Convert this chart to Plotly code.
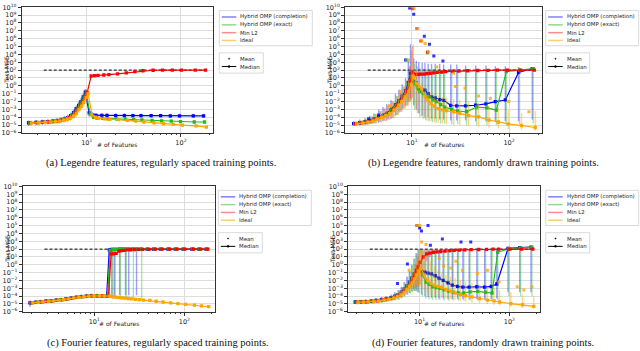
import plotly.graph_objects as go

W, H = 640, 351

SERIES = ["Hybrid OMP (completion)", "Hybrid OMP (exact)", "Min L2", "Ideal"]
COLORS = ["#0000ff", "#22bb22", "#ff0000", "#ffa500"]
BAR_COLORS = ["rgba(0,0,255,0.38)", "rgba(34,187,34,0.38)", "rgba(255,0,0,0.35)", "rgba(255,165,0,0.45)"]
LEGEND_COLORS = ["rgba(0,0,255,0.5)", "rgba(34,187,34,0.5)", "rgba(255,0,0,0.45)", "rgba(255,165,0,0.55)"]

CAPTIONS = [
    "(a) Legendre features, regularly spaced training points.",
    "(b) Legendre features, randomly drawn training points.",
    "(c) Fourier features, regularly spaced training points.",
    "(d) Fourier features, randomly drawn training points.",
]

Y_TICK_EXP = [-6, -5, -4, -3, -2, -1, 0, 1, 2, 3, 4, 5, 6, 7, 8, 9, 10]
X_TICKS = [10, 100]
X_TICK_TEXT = ["10<sup>1</sup>", "10<sup>2</sup>"]
NULL_MSE = 100

# (a) Legendre features, regularly spaced points
A_X = [2.5, 3.0, 3.5, 4.0, 4.5, 5.0, 5.5, 6.0, 6.5, 7.0, 7.5, 8.0, 8.5, 9.0, 9.5, 10.0,
       11.0, 12.0, 13.0, 15.0, 17.0, 21.0, 26.0, 32.0, 39.0, 50.0, 63.0, 80.0, 100.0, 140.0, 180.0]
A_DASH_X = [3.5, 180.0]
a_blue = [-4.7, -4.65, -4.6, -4.55, -4.5, -4.45, -4.35, -4.2, -4.05, -3.8, -3.4, -2.9, -2.5, -2.0, -1.4, -0.8,
          -3.45, -3.7, -3.75, -3.75, -3.75, -3.78, -3.78, -3.8, -3.8, -3.8, -3.8, -3.82, -3.82, -3.82, -3.82]
a_blue_lo = [-5.1, -5.0, -4.95, -4.9, -4.85, -4.8, -4.7, -4.6, -4.5, -4.3, -3.9, -3.5, -3.1, -2.6, -2.0, -1.5,
             -3.9, -4.0, -4.0, -4.0, -4.0, -4.0, -4.0, -4.05, -4.05, -4.05, -4.05, -4.05, -4.05, -4.05, -4.05]
a_blue_hi = [-4.4, -4.35, -4.3, -4.25, -4.2, -4.1, -4.0, -3.85, -3.65, -3.4, -3.0, -2.5, -2.0, -1.5, -1.0, -0.4,
             -3.0, -3.35, -3.45, -3.5, -3.5, -3.5, -3.5, -3.55, -3.55, -3.55, -3.55, -3.55, -3.55, -3.55, -3.55]
a_green = [-4.72, -4.67, -4.62, -4.57, -4.5, -4.45, -4.35, -4.2, -4.05, -3.8, -3.45, -2.95, -2.5, -2.05, -1.45, -0.9,
           -3.6, -4.0, -4.1, -4.15, -4.2, -4.2, -4.25, -4.3, -4.35, -4.4, -4.45, -4.5, -4.55, -4.6, -4.6]
a_green_lo = [-5.0, -4.95, -4.9, -4.85, -4.8, -4.75, -4.65, -4.55, -4.4, -4.2, -3.85, -3.35, -2.9, -2.5, -1.9, -1.4,
              -3.9, -4.25, -4.3, -4.35, -4.4, -4.4, -4.45, -4.5, -4.55, -4.6, -4.65, -4.7, -4.75, -4.8, -4.8]
a_green_hi = [-4.45, -4.4, -4.35, -4.3, -4.25, -4.15, -4.05, -3.9, -3.7, -3.45, -3.05, -2.55, -2.1, -1.6, -1.0, -0.5,
              -3.3, -3.75, -3.9, -3.95, -4.0, -4.0, -4.05, -4.1, -4.15, -4.2, -4.25, -4.3, -4.35, -4.4, -4.4]
a_red = [-4.72, -4.67, -4.62, -4.57, -4.52, -4.46, -4.36, -4.22, -4.06, -3.82, -3.45, -2.95, -2.52, -2.05, -1.45, -0.85,
         1.25, 1.3, 1.33, 1.38, 1.43, 1.52, 1.65, 1.8, 1.92, 1.98, 2.0, 2.0, 2.0, 2.0, 2.0]
a_red_lo = [-4.95, -4.9, -4.85, -4.8, -4.75, -4.7, -4.6, -4.5, -4.35, -4.15, -3.8, -3.3, -2.9, -2.45, -1.9, -1.35,
            1.15, 1.22, 1.25, 1.3, 1.35, 1.44, 1.57, 1.72, 1.85, 1.92, 1.95, 1.95, 1.95, 1.95, 1.95]
a_red_hi = [-4.5, -4.45, -4.4, -4.35, -4.3, -4.2, -4.1, -3.95, -3.75, -3.5, -3.1, -2.6, -2.15, -1.65, -1.05, -0.45,
            1.35, 1.38, 1.41, 1.46, 1.51, 1.6, 1.73, 1.88, 1.99, 2.04, 2.05, 2.05, 2.05, 2.05, 2.05]
a_orange = [-4.75, -4.7, -4.65, -4.6, -4.55, -4.48, -4.38, -4.25, -4.1, -3.85, -3.5, -3.0, -2.6, -2.1, -1.5, -1.0,
            -3.7, -4.0, -4.1, -4.2, -4.25, -4.3, -4.4, -4.5, -4.6, -4.7, -4.8, -4.9, -5.0, -5.1, -5.25]
a_orange_lo = [-5.1, -5.05, -5.0, -4.95, -4.9, -4.85, -4.75, -4.65, -4.5, -4.3, -3.95, -3.45, -3.05, -2.6, -2.0, -1.6,
               -3.9, -4.15, -4.25, -4.3, -4.35, -4.4, -4.5, -4.6, -4.7, -4.8, -4.9, -5.0, -5.1, -5.2, -5.35]
a_orange_hi = [-4.4, -4.35, -4.3, -4.25, -4.2, -4.1, -4.0, -3.85, -3.7, -3.4, -3.05, -2.55, -2.1, -1.6, -1.0, -0.45,
               -3.5, -3.85, -3.95, -4.1, -4.15, -4.2, -4.3, -4.4, -4.5, -4.6, -4.7, -4.8, -4.9, -5.0, -5.15]

# (b) Legendre features, random points
B_X = [2.6, 3.0, 3.4, 3.8, 4.2, 4.7, 5.2, 5.7, 6.3, 7.0, 7.6, 8.2, 8.9, 9.5, 10.0, 10.8, 11.5,
       12.2, 13.2, 14.1, 15.2, 16.5, 18.0, 20.0, 22.0, 26.0, 30.0, 37.0, 47.0, 60.0, 75.0, 95.0, 130.0, 180.0]
B_DASH_X = [3.5, 180.0]
b_blue = [-4.8, -4.7, -4.55, -4.4, -4.2, -3.95, -3.75, -3.5, -3.0, -2.4, -1.9, -1.3, -0.6, 0.4, 1.6, 0.6, 0.4,
          -0.4, -0.5, -0.55, -1.0, -1.4, -1.55, -1.75, -1.85, -2.5, -2.55, -2.55, -2.47, -2.3, -2.0, -1.8, 1.7, 2.2]
b_blue_lo = [-5.0, -5.0, -5.0, -4.9, -4.8, -4.7, -4.5, -4.4, -4.2, -3.8, -3.4, -3.0, -2.6, -2.0, -1.6, -2.5, -3.0,
             -3.5, -3.8, -4.0, -4.0, -4.2, -4.2, -4.3, -4.3, -4.4, -4.4, -4.4, -4.5, -4.5, -4.5, -4.5, -4.5, -4.3]
b_blue_hi = [-4.5, -4.3, -4.1, -3.8, -3.5, -3.0, -2.7, -2.3, -1.8, -1.0, -0.5, 0.2, 1.0, 3.2, 5.3, 3.5, 3.2,
             3.0, 2.9, 2.9, 2.8, 2.8, 2.8, 2.8, 2.7, 2.7, 2.7, 2.6, 2.6, 2.6, 2.5, 2.5, 2.4, 2.4]
b_green = [-4.82, -4.72, -4.58, -4.42, -4.22, -3.97, -3.77, -3.52, -3.05, -2.45, -1.95, -1.35, -0.7, 0.3, 1.2, 0.3, -0.2,
           -0.75, -1.0, -1.4, -1.4, -1.8, -2.0, -2.4, -2.7, -3.0, -3.2, -3.3, -2.7, -2.8, -3.1, 1.8, 2.0, 2.2]
b_green_lo = [-5.05, -5.0, -4.95, -4.85, -4.75, -4.6, -4.45, -4.3, -4.1, -3.7, -3.3, -2.9, -2.5, -2.1, -1.8, -3.0, -3.5,
              -4.0, -4.2, -4.4, -4.5, -4.6, -4.7, -4.8, -4.8, -4.9, -4.9, -5.0, -5.0, -5.0, -5.0, -5.0, -4.9, -4.8]
b_green_hi = [-4.55, -4.4, -4.2, -3.9, -3.6, -3.2, -2.9, -2.5, -2.0, -1.3, -0.8, -0.1, 0.7, 2.5, 4.5, 2.8, 2.5,
              2.3, 2.2, 2.2, 2.1, 2.1, 2.1, 2.1, 2.1, 2.1, 2.1, 2.1, 2.1, 2.1, 2.1, 2.2, 2.3, 2.4]
b_red = [-4.82, -4.72, -4.58, -4.42, -4.22, -3.97, -3.77, -3.52, -3.05, -2.45, -1.95, -1.35, -0.65, 0.5, 1.8, 1.45, 1.45,
         1.5, 1.5, 1.55, 1.6, 1.65, 1.7, 1.75, 1.8, 1.85, 1.88, 1.92, 1.95, 1.97, 2.0, 2.0, 2.0, 2.0]
b_red_lo = [-5.05, -5.0, -4.95, -4.85, -4.75, -4.6, -4.45, -4.3, -4.1, -3.7, -3.3, -2.9, -2.5, -2.0, -1.5, 1.1, 1.2,
            1.25, 1.3, 1.35, 1.4, 1.45, 1.5, 1.55, 1.6, 1.65, 1.7, 1.75, 1.8, 1.85, 1.88, 1.9, 1.9, 1.9]
b_red_hi = [-4.55, -4.4, -4.2, -3.9, -3.6, -3.2, -2.9, -2.5, -2.0, -1.3, -0.8, -0.1, 0.7, 2.5, 5.0, 1.9, 1.85,
            1.85, 1.85, 1.9, 1.9, 1.95, 1.95, 2.0, 2.0, 2.05, 2.05, 2.05, 2.05, 2.05, 2.1, 2.1, 2.1, 2.1]
b_orange = [-4.85, -4.75, -4.6, -4.45, -4.25, -4.0, -3.8, -3.55, -3.1, -2.5, -2.0, -1.4, -0.7, 0.2, 1.2, 0.3, -0.1,
            -0.4, -1.4, -1.8, -2.25, -2.6, -2.9, -3.05, -3.15, -3.3, -3.5, -3.8, -3.95, -4.35, -4.6, -4.85, -5.05, -5.3]
b_orange_lo = [-5.1, -5.05, -5.0, -4.9, -4.8, -4.65, -4.5, -4.35, -4.15, -3.75, -3.35, -2.95, -2.55, -2.1, -1.9, -3.0, -3.5,
               -3.9, -4.2, -4.4, -4.5, -4.6, -4.7, -4.8, -4.9, -5.0, -5.0, -5.1, -5.2, -5.3, -5.4, -5.5, -5.6, -5.7]
b_orange_hi = [-4.5, -4.35, -4.15, -3.85, -3.55, -3.15, -2.85, -2.45, -1.95, -1.25, -0.75, -0.05, 0.75, 2.6, 5.3, 2.0, 1.0,
               0.5, -0.3, -0.6, -0.8, -1.0, -1.2, -1.4, -1.5, -1.7, -1.8, -2.0, -2.2, -2.5, -2.8, -3.0, -3.5, -3.2]
B_BLUE_MEAN_X = [3.7, 4.7, 8.9, 9.8, 10.8, 13.9, 15.7, 17.4, 21.6]
b_blue_mean = [-4.2, -3.7, 3.3, 9.9, 9.1, 6.3, 5.3, 3.8, 3.15]
B_GREEN_MEAN_X = [8.9, 14.6]
b_green_mean = [3.3, 4.2]
B_RED_MEAN_X = [10.0, 11.1, 12.2, 14.3]
b_red_mean = [9.8, 7.3, 5.7, 4.3]
B_ORANGE_MEAN_X = [5.7, 7.3, 8.9, 10.2, 11.1, 12.2, 13.2, 14.3, 17.4, 26.0, 27.0, 34.0, 47.0, 62.0, 96.0, 155.0]
b_orange_mean = [-2.5, -0.7, 3.3, 9.85, 7.3, 5.7, 5.4, 4.3, 2.4, 1.6, -0.1, -0.3, -1.3, -1.6, -2.0, -3.3]

# (c) Fourier features, regularly spaced points
C_X = [2.0, 2.3, 2.6, 3.0, 3.4, 3.9, 4.4, 5.0, 5.7, 6.5, 7.4, 8.4, 9.6, 11.0, 12.5, 14.2, 15.2, 16.2,
       17.3, 18.5, 19.8, 21.2, 23.0, 25.0, 27.5, 30.5, 34.0, 40.0, 47.0, 56.0, 68.0, 82.0, 100.0, 125.0, 150.0, 180.0]
C_DASH_X = [2.8, 180.0]
c_blue = [-4.85, -4.8, -4.75, -4.65, -4.6, -4.5, -4.45, -4.35, -4.25, -4.15, -4.05, -4.0, -3.95, -3.95, -3.97, -4.0,
          1.9, 1.95, 1.97, 1.98, 2.0, 2.0, 2.0, 2.0, 2.0, 2.0, 2.0, 2.0, 2.0, 2.0, 2.0, 2.0, 2.0, 2.0, 2.0, 2.0]
c_blue_lo = [-5.4, -5.0, -4.95, -4.85, -4.8, -4.7, -4.65, -4.55, -4.45, -4.35, -4.25, -4.2, -4.15, -4.15, -4.17, -4.25,
             -3.9, -3.9, -3.9, 1.8, -3.9, 1.8, -3.9, -3.9, 1.8, -3.9, 1.8, 1.8, 1.8, 1.8, 1.8, 1.8, 1.8, 1.8, 1.8, 1.8]
c_blue_hi = [-4.55, -4.5, -4.45, -4.4, -4.35, -4.25, -4.2, -4.1, -4.0, -3.9, -3.8, -3.75, -3.7, -3.7, -3.72, -3.75,
             2.05, 2.05, 2.05, 2.05, 2.05, 2.05, 2.05, 2.05, 2.05, 2.05, 2.05, 2.05, 2.05, 2.05, 2.05, 2.05, 2.05, 2.05, 2.05, 2.05]
c_green = [-4.85, -4.8, -4.75, -4.65, -4.6, -4.5, -4.45, -4.35, -4.25, -4.15, -4.05, -4.0, -3.95, -3.95, -3.97, -4.0,
           1.85, 1.95, 1.97, 1.98, 2.0, 2.0, 2.0, 2.0, 2.0, 2.0, 2.0, 2.0, 2.0, 2.0, 2.0, 2.0, 2.0, 2.0, 2.0, 2.0]
c_green_lo = [-5.2, -5.0, -4.95, -4.85, -4.8, -4.7, -4.65, -4.55, -4.45, -4.35, -4.25, -4.2, -4.15, -4.15, -4.17, -4.2,
              1.75, -4.4, -4.4, 1.8, -4.4, 1.8, -4.4, 1.8, -4.4, 1.8, -4.4, 1.8, 1.8, 1.8, 1.8, 1.8, 1.8, 1.8, 1.8, 1.8]
c_green_hi = [-4.55, -4.5, -4.45, -4.4, -4.35, -4.25, -4.2, -4.1, -4.0, -3.9, -3.8, -3.75, -3.7, -3.7, -3.72, -3.75,
              2.05, 2.05, 2.05, 2.05, 2.05, 2.05, 2.05, 2.05, 2.05, 2.05, 2.05, 2.05, 2.05, 2.05, 2.05, 2.05, 2.05, 2.05, 2.05, 2.05]
c_red = [-4.85, -4.8, -4.75, -4.65, -4.6, -4.5, -4.45, -4.35, -4.25, -4.15, -4.05, -4.0, -3.95, -3.95, -3.97, -4.0,
         1.4, 1.4, 1.45, 1.75, 1.8, 1.85, 1.9, 1.92, 1.95, 1.96, 1.97, 1.98, 1.99, 2.0, 2.0, 2.0, 2.0, 2.0, 2.0, 2.0]
c_red_lo = [-5.05, -5.0, -4.95, -4.85, -4.8, -4.7, -4.65, -4.55, -4.45, -4.35, -4.25, -4.2, -4.15, -4.15, -4.17, -4.2,
            1.25, 1.3, 1.35, 1.65, 1.7, 1.75, 1.8, 1.82, 1.85, 1.86, 1.87, 1.88, 1.89, 1.9, 1.9, 1.9, 1.9, 1.9, 1.9, 1.9]
c_red_hi = [-4.65, -4.6, -4.55, -4.45, -4.4, -4.3, -4.25, -4.15, -4.05, -3.95, -3.85, -3.8, -3.75, -3.75, -3.77, -3.8,
            1.95, 1.6, 1.6, 1.85, 1.9, 1.95, 2.0, 2.02, 2.05, 2.06, 2.07, 2.08, 2.09, 2.1, 2.1, 2.1, 2.1, 2.1, 2.1, 2.1]
c_orange = [-4.85, -4.8, -4.75, -4.65, -4.6, -4.5, -4.45, -4.35, -4.25, -4.15, -4.05, -4.0, -3.95, -3.95, -3.97, -4.0,
            -4.05, -4.1, -4.15, -4.2, -4.22, -4.25, -4.3, -4.35, -4.4, -4.45, -4.5, -4.55, -4.65, -4.75, -4.85, -4.95, -5.05, -5.15, -5.25, -5.35]
c_orange_lo = [-5.05, -5.0, -4.95, -4.85, -4.8, -4.7, -4.65, -4.55, -4.45, -4.35, -4.25, -4.2, -4.15, -4.15, -4.17, -4.2,
               -4.2, -4.25, -4.3, -4.35, -4.37, -4.4, -4.45, -4.5, -4.55, -4.6, -4.65, -4.7, -4.8, -4.9, -5.0, -5.1, -5.2, -5.3, -5.4, -5.5]
c_orange_hi = [-4.65, -4.6, -4.55, -4.45, -4.4, -4.3, -4.25, -4.15, -4.05, -3.95, -3.85, -3.8, -3.75, -3.75, -3.77, -3.8,
               -3.9, -3.95, -4.0, -4.05, -4.07, -4.1, -4.15, -4.2, -4.25, -4.3, -4.35, -4.4, -4.5, -4.6, -4.7, -4.8, -4.9, -5.0, -5.1, -5.2]

# (d) Fourier features, random points
D_X = [2.0, 2.3, 2.6, 3.0, 3.4, 3.9, 4.4, 5.0, 5.5, 6.0, 6.5, 7.0, 7.5, 8.0, 8.5, 9.0, 9.5, 10.0, 10.9,
       11.9, 12.9, 14.1, 15.5, 17.0, 19.0, 21.5, 24.0, 27.5, 31.5, 37.0, 45.0, 55.0, 65.0, 75.0, 100.0, 135.0, 180.0]
D_DASH_X = [2.8, 180.0]
d_blue = [-4.75, -4.72, -4.7, -4.65, -4.55, -4.45, -4.35, -4.2, -4.0, -3.8, -3.5, -3.1, -2.7, -2.2, -1.7, -1.2, -0.7, -0.3, -0.8,
          -0.95, -1.05, -1.15, -1.4, -1.7, -2.0, -2.3, -2.6, -2.75, -2.85, -2.85, -2.8, -2.85, -2.75, -2.45, 2.1, 2.2, 2.25]
d_blue_lo = [-5.0, -5.0, -4.95, -4.9, -4.85, -4.8, -4.7, -4.6, -4.5, -4.4, -4.2, -4.0, -3.8, -3.6, -3.4, -3.3, -3.3, -3.5, -3.8,
             -4.0, -4.1, -4.2, -4.2, -4.3, -4.3, -4.4, -4.4, -4.4, -4.4, -4.4, -4.4, -4.4, -4.4, -4.3, -3.5, -3.5, -3.5]
d_blue_hi = [-4.5, -4.45, -4.4, -4.35, -4.25, -4.1, -4.0, -3.8, -3.5, -3.2, -2.8, -2.2, -1.5, -0.8, 0.0, 0.8, 1.5, 2.0, 1.9,
             1.9, 1.9, 1.9, 1.9, 1.9, 1.9, 1.9, 1.9, 1.9, 1.9, 1.9, 1.9, 1.9, 1.9, 1.9, 2.3, 2.35, 2.4]
d_green = [-4.77, -4.74, -4.72, -4.67, -4.57, -4.47, -4.37, -4.22, -4.02, -3.82, -3.52, -3.12, -2.72, -2.25, -1.75, -1.25, -0.8, -0.5, -1.3,
           -2.2, -2.5, -2.8, -2.9, -3.0, -3.2, -3.4, -3.5, -3.6, -3.6, -3.45, -3.4, -3.5, -3.6, 1.6, 2.05, 2.15, 2.25]
d_green_lo = [-5.05, -5.0, -5.0, -4.95, -4.9, -4.85, -4.75, -4.65, -4.55, -4.45, -4.25, -4.05, -3.85, -3.65, -3.45, -3.35, -3.4, -3.6, -4.0,
              -4.3, -4.4, -4.5, -4.5, -4.5, -4.6, -4.6, -4.6, -4.6, -4.6, -4.6, -4.6, -4.6, -4.6, -4.5, -4.0, -4.0, -4.0]
d_green_hi = [-4.52, -4.47, -4.42, -4.37, -4.27, -4.12, -4.02, -3.82, -3.52, -3.22, -2.82, -2.22, -1.52, -0.82, -0.02, 0.78, 1.45, 1.95, 1.95,
              1.95, 1.95, 1.95, 1.95, 1.95, 1.95, 1.95, 1.95, 1.95, 1.95, 1.95, 1.95, 1.95, 1.95, 2.0, 2.3, 2.35, 2.4]
d_red = [-4.77, -4.74, -4.72, -4.67, -4.57, -4.47, -4.37, -4.22, -4.02, -3.82, -3.52, -3.12, -2.72, -2.2, -1.6, -1.0, -0.3, 0.3, 1.0,
         1.4, 1.5, 1.6, 1.65, 1.7, 1.75, 1.8, 1.85, 1.88, 1.9, 1.93, 1.95, 1.97, 2.0, 2.0, 2.0, 2.0, 2.0]
d_red_lo = [-5.0, -4.97, -4.95, -4.9, -4.8, -4.7, -4.6, -4.45, -4.25, -4.05, -3.75, -3.35, -3.0, -2.9, -3.0, -3.0, -2.8, -2.5, -1.5,
            0.5, 1.0, 1.3, 1.4, 1.45, 1.5, 1.55, 1.6, 1.65, 1.7, 1.75, 1.8, 1.82, 1.85, 1.85, 1.85, 1.85, 1.85]
d_red_hi = [-4.55, -4.5, -4.48, -4.43, -4.33, -4.23, -4.13, -3.98, -3.78, -3.58, -3.28, -2.88, -2.48, -1.9, -1.0, 0.0, 1.0, 2.0, 2.0,
            2.0, 2.0, 2.0, 2.0, 2.0, 2.0, 2.05, 2.05, 2.05, 2.05, 2.05, 2.1, 2.1, 2.1, 2.1, 2.1, 2.1, 2.1]
d_orange = [-4.8, -4.77, -4.75, -4.7, -4.6, -4.5, -4.4, -4.25, -4.05, -3.85, -3.55, -3.15, -2.75, -2.3, -1.8, -1.3, -0.8, -0.45, -1.3,
            -2.0, -2.35, -2.6, -2.75, -2.85, -3.15, -3.4, -3.6, -3.8, -3.95, -4.1, -4.3, -4.5, -4.6, -4.75, -4.95, -5.1, -5.3]
d_orange_lo = [-5.1, -5.05, -5.05, -5.0, -4.9, -4.8, -4.7, -4.6, -4.45, -4.3, -4.05, -3.7, -3.4, -3.1, -2.8, -2.6, -2.6, -2.8, -3.2,
               -3.6, -3.9, -4.0, -4.1, -4.2, -4.3, -4.4, -4.5, -4.6, -4.7, -4.8, -4.9, -5.0, -5.1, -5.2, -5.35, -5.5, -5.6]
d_orange_hi = [-4.5, -4.47, -4.45, -4.4, -4.3, -4.2, -4.1, -3.9, -3.6, -3.3, -2.9, -2.4, -1.8, -1.0, -0.2, 0.6, 1.4, 1.9, 1.8,
               1.0, 0.5, -0.2, -0.6, -1.0, -1.3, -1.5, -1.7, -1.9, -2.1, -2.3, -2.5, -2.8, -3.0, -3.2, -3.5, -3.8, -4.0]
D_BLUE_MEAN_X = [5.9, 7.6, 9.7, 10.4, 10.9, 12.9, 13.7, 18.6, 30.0, 38.5]
d_blue_mean = [-2.4, 0.1, 5.0, 4.7, 4.3, 5.0, 2.5, 3.3, 2.9, 2.9]
D_ORANGE_MEAN_X = [7.4, 9.0, 9.7, 10.0, 10.2, 11.4, 16.0, 18.0, 21.6, 24.5, 29.0, 42.5, 55.0, 74.0, 118.0, 140.0, 172.0]
d_orange_mean = [-0.7, 5.0, 5.0, 1.6, 2.9, 2.6, 0.8, -0.2, -0.4, 0.45, -0.7, -1.1, -0.7, -2.2, -2.8, -3.2, -2.8]

PANELS = [
    (A_X, A_DASH_X, [(a_blue, a_blue_lo, a_blue_hi), (a_green, a_green_lo, a_green_hi),
                     (a_red, a_red_lo, a_red_hi), (a_orange, a_orange_lo, a_orange_hi)], []),
    (B_X, B_DASH_X, [(b_blue, b_blue_lo, b_blue_hi), (b_green, b_green_lo, b_green_hi),
                     (b_red, b_red_lo, b_red_hi), (b_orange, b_orange_lo, b_orange_hi)],
     [(0, B_BLUE_MEAN_X, b_blue_mean), (1, B_GREEN_MEAN_X, b_green_mean),
      (2, B_RED_MEAN_X, b_red_mean), (3, B_ORANGE_MEAN_X, b_orange_mean)]),
    (C_X, C_DASH_X, [(c_blue, c_blue_lo, c_blue_hi), (c_green, c_green_lo, c_green_hi),
                     (c_red, c_red_lo, c_red_hi), (c_orange, c_orange_lo, c_orange_hi)], []),
    (D_X, D_DASH_X, [(d_blue, d_blue_lo, d_blue_hi), (d_green, d_green_lo, d_green_hi),
                     (d_red, d_red_lo, d_red_hi), (d_orange, d_orange_lo, d_orange_hi)],
     [(0, D_BLUE_MEAN_X, d_blue_mean), (3, D_ORANGE_MEAN_X, d_orange_mean)]),
]

# plot boxes in pixels: left, right, top, bottom, log10 x-range
BOXES = [
    (21.7, 213.0, 3.3, 132.0, [0.31, 2.34]),
    (345.0, 542.0, 3.3, 132.0, [0.31, 2.34]),
    (22.7, 215.0, 186.7, 315.0, [0.205, 2.34]),
    (348.0, 540.0, 186.7, 315.0, [0.205, 2.34]),
]
LEGEND_POS = [(219.3, 6.7), (545.7, 6.7), (218.3, 190.7), (545.7, 190.7)]
CAPTION_POS = [(161, 163), (483, 163), (158, 347), (483, 347)]
DODGE = [0.965, 0.988, 1.012, 1.035]

AX_FONT = dict(family="DejaVu Sans", size=6.5, color="#222222")
LEG_FONT = dict(family="DejaVu Sans", size=5.4, color="#222222")
TITLE_FONT = dict(family="DejaVu Sans", size=6, color="#222222")
CAP_FONT = dict(family="Liberation Serif", size=10.5, color="#111111")


def px(x):
    return x / W


def py(y):
    return 1 - y / H


def dex(vals):
    return [10 ** v for v in vals]


def note(x, y, text, font, xanchor="center", angle=0):
    fig.add_annotation(x=px(x), y=py(y), text=text, textangle=angle, showarrow=False,
                       xref="paper", yref="paper", xanchor=xanchor, yanchor="middle",
                       font=font)


fig = go.Figure()

for k, (xs, dash_x, series, means) in enumerate(PANELS):
    xa = "x" if k == 0 else f"x{k + 1}"
    ya = "y" if k == 0 else f"y{k + 1}"
    for med, lo, hi in series:
        assert len(med) == len(xs) == len(lo) == len(hi)

    fig.add_trace(go.Scatter(
        x=dash_x, y=[NULL_MSE, NULL_MSE], mode="lines",
        line=dict(color="black", width=1, dash="3px,2px"),
        xaxis=xa, yaxis=ya, showlegend=False, hoverinfo="skip"
    ))

    for i, (med, lo, hi) in enumerate(series):
        y = dex(med)
        up = [max(h - v, 0) for h, v in zip(dex(hi), y)]
        down = [max(v - l, 0) for l, v in zip(dex(lo), y)]
        fig.add_trace(go.Scatter(
            x=[v * DODGE[i] for v in xs], y=y,
            mode="lines+markers",
            name=SERIES[i],
            line=dict(color=COLORS[i], width=1.2),
            marker=dict(color=COLORS[i], size=3.3, symbol="square"),
            error_y=dict(type="data", symmetric=False, array=up, arrayminus=down,
                         color=BAR_COLORS[i], thickness=1.4, width=0),
            xaxis=xa, yaxis=ya, showlegend=False
        ))

    for i, mx, my in means:
        fig.add_trace(go.Scatter(
            x=[v * DODGE[i] for v in mx], y=dex(my), mode="markers",
            marker=dict(color=COLORS[i], size=3, symbol="square", opacity=0.8),
            xaxis=xa, yaxis=ya, showlegend=False
        ))

layout = dict(
    width=W, height=H,
    margin=dict(l=0, r=0, t=0, b=0),
    paper_bgcolor="white", plot_bgcolor="white",
    showlegend=False,
)

minor_x = [m * 10 ** e for e in (0, 1, 2) for m in range(2, 10)]

for k, (l, r, t, b, xr) in enumerate(BOXES):
    sx = "" if k == 0 else str(k + 1)
    layout["xaxis" + sx] = dict(
        domain=[px(l), px(r)], anchor="y" + sx, type="log", range=xr,
        tickvals=X_TICKS, ticktext=X_TICK_TEXT, tickfont=AX_FONT,
        ticks="outside", ticklen=3, tickcolor="#333333",
        showgrid=True, gridcolor="#dddddd", gridwidth=1,
        showline=True, linecolor="#333333", linewidth=0.8, mirror=True,
        zeroline=False,
        minor=dict(tickvals=minor_x, ticks="outside", ticklen=1.5, tickcolor="#333333", showgrid=False),
    )
    layout["yaxis" + sx] = dict(
        domain=[py(b), py(t)], anchor="x" + sx, type="log", range=[-6, 10],
        tickvals=dex(Y_TICK_EXP),
        ticktext=[f"10<sup>{e}</sup>".replace("-", "\u2212") for e in Y_TICK_EXP],
        tickfont=AX_FONT, ticks="outside", ticklen=3, tickcolor="#333333",
        showgrid=True, gridcolor="#dddddd", gridwidth=1,
        showline=True, linecolor="#333333", linewidth=0.8, mirror=True,
        zeroline=False,
    )

fig.update_layout(**layout)

for k, (l, r, t, b, xr) in enumerate(BOXES):
    note(l - 16, (t + b) / 2, "Test MSE", TITLE_FONT, angle=-90)
    note((l + r) / 2, b + 11.5, "# of Features", TITLE_FONT)
    cx, cy = CAPTION_POS[k]
    note(cx, cy, CAPTIONS[k], CAP_FONT)

    lx, ly = LEGEND_POS[k]
    fig.add_shape(type="rect", xref="paper", yref="paper",
                  x0=px(lx), x1=px(lx + 93), y0=py(ly), y1=py(ly + 36),
                  line=dict(color="#d0d0d0", width=0.8), fillcolor="white")
    for i, name in enumerate(SERIES):
        yy = ly + 6.6 + 8 * i
        fig.add_shape(type="line", xref="paper", yref="paper",
                      x0=px(lx + 2.5), x1=px(lx + 17), y0=py(yy), y1=py(yy),
                      line=dict(color=LEGEND_COLORS[i], width=1.5))
        note(lx + 19, yy, name, LEG_FONT, xanchor="left")
    fig.add_shape(type="rect", xref="paper", yref="paper",
                  x0=px(lx), x1=px(lx + 44), y0=py(ly + 43.3), y1=py(ly + 64),
                  line=dict(color="#d0d0d0", width=0.8), fillcolor="white")
    fig.add_shape(type="circle", xref="paper", yref="paper",
                  x0=px(lx + 9.2), x1=px(lx + 10.4), y0=py(ly + 49.9), y1=py(ly + 48.7),
                  line=dict(color="black", width=0.5), fillcolor="black")
    fig.add_shape(type="line", xref="paper", yref="paper",
                  x0=px(lx + 2.5), x1=px(lx + 17), y0=py(ly + 57.3), y1=py(ly + 57.3),
                  line=dict(color="black", width=1))
    fig.add_shape(type="circle", xref="paper", yref="paper",
                  x0=px(lx + 8.8), x1=px(lx + 10.8), y0=py(ly + 58.3), y1=py(ly + 56.3),
                  line=dict(color="black", width=0.5), fillcolor="black")
    for j, name in enumerate(["Mean", "Median"]):
        note(lx + 19, ly + 49.3 + 8 * j, name, LEG_FONT, xanchor="left")

# the page's default body margin would push the 640x351 figure off-screen
fig.write_html("out.html", config={"displayModeBar": False},
               post_script="document.body.style.margin='0';")
